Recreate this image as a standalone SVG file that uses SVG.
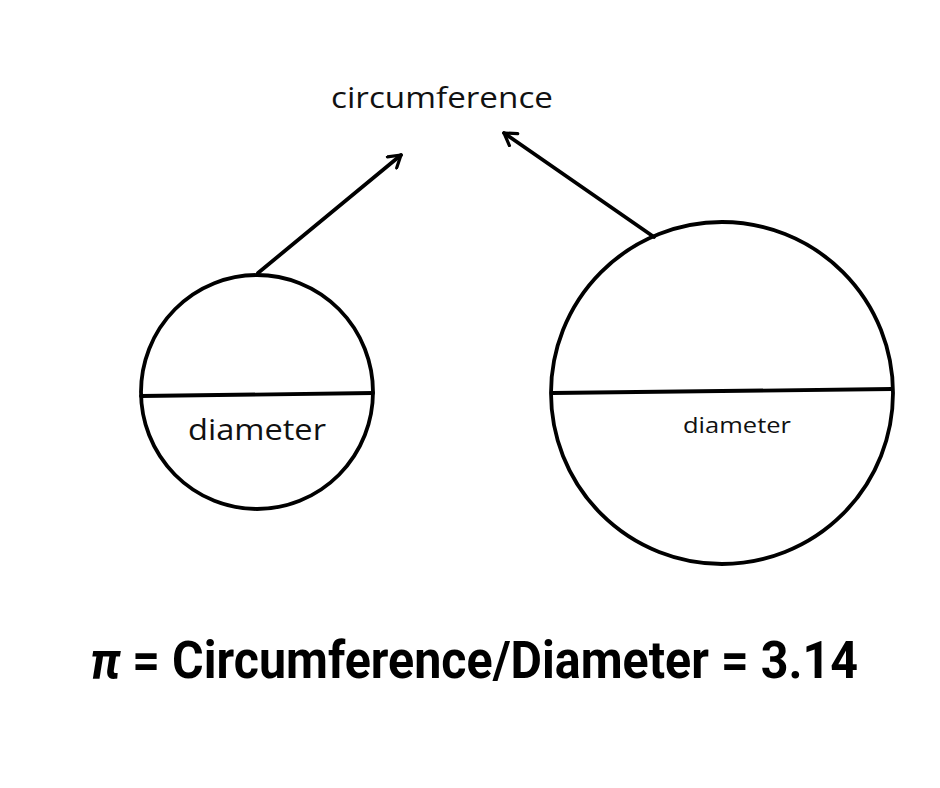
<svg xmlns="http://www.w3.org/2000/svg" width="940" height="788" viewBox="0 0 940 788">
<style>
.sh{fill:none;stroke:#000;stroke-width:3.8;stroke-linecap:round}
.lbl{font-family:"Open Sans","Liberation Sans",sans-serif;fill:#111}
.eq{font-family:Roboto,"Liberation Sans",sans-serif;font-weight:bold;fill:#000}
</style>
<defs>
<marker id="arr" viewBox="0 0 12 12" refX="10" refY="6" markerWidth="4.6" markerHeight="4.6" orient="auto" markerUnits="strokeWidth">
<path d="M2,1 L10,6 L2,11" fill="none" stroke="#000" stroke-width="2.2" stroke-linecap="round" stroke-linejoin="round"/>
</marker>
</defs>
<rect width="940" height="788" fill="#fff"/>
<g id="circumference-label">
<text class="lbl" x="331" y="108" font-size="29" textLength="222" lengthAdjust="spacingAndGlyphs">circumference</text>
</g>
<g id="small-circle">
<ellipse class="sh" cx="257" cy="392" rx="116" ry="117"/>
<line class="sh" x1="141" y1="396" x2="373" y2="393"/>
<text class="lbl" x="188" y="440" font-size="29" textLength="138" lengthAdjust="spacingAndGlyphs">diameter</text>
</g>
<g id="large-circle">
<circle class="sh" cx="722" cy="393" r="171"/>
<line class="sh" x1="552" y1="393" x2="892" y2="389"/>
<text class="lbl" x="683" y="433" font-size="22" textLength="108" lengthAdjust="spacingAndGlyphs">diameter</text>
</g>
<g id="connectors">
<line class="sh" x1="258" y1="273" x2="401" y2="155" marker-end="url(#arr)"/>
<line class="sh" x1="654" y1="237" x2="504" y2="133" marker-end="url(#arr)"/>
</g>
<g id="formula">
<text class="eq" x="90" y="678" font-size="51" textLength="768" lengthAdjust="spacingAndGlyphs"><tspan font-style="italic">π</tspan> = Circumference/Diameter = 3.14</text>
</g>
</svg>
